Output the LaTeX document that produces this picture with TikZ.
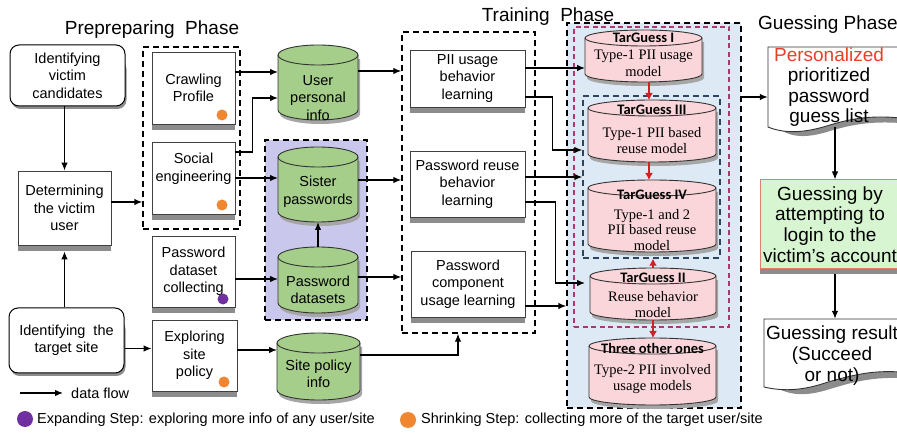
\documentclass[tikz,border=0pt]{standalone}
\usepackage{fontspec}
\setmainfont{Liberation Sans}
\newfontfamily\tgserif{Liberation Serif}
\newfontfamily\tgcal{Carlito}
\usetikzlibrary{arrows.meta,calc}
\definecolor{cylgreen}{RGB}{164,206,137}
\definecolor{grplav}{RGB}{201,200,236}
\definecolor{bluebg}{RGB}{221,234,245}
\definecolor{cylpink}{RGB}{250,213,217}
\definecolor{guessfill}{RGB}{214,245,208}
\definecolor{guessedge}{RGB}{224,128,108}
\definecolor{dotorange}{RGB}{238,134,50}
\definecolor{dotpurple}{RGB}{112,48,160}
\definecolor{myred}{RGB}{214,30,40}
\definecolor{pinkdash}{RGB}{168,58,108}
\definecolor{navydash}{RGB}{45,70,95}
\definecolor{persred}{RGB}{232,64,40}
\definecolor{shadgray}{RGB}{140,140,140}
\newcommand\dbcyl[7]{%
  \pgfmathsetmacro\cylrx{(#4-#2)/2}%
  \begin{scope}[shift={(2,4)}]
    \fill[black!35] (#2,#3+#6) -- (#2,#5-#6) arc[start angle=180,end angle=360,x radius=\cylrx pt,y radius=#6 pt] -- (#4,#3+#6) -- cycle;
  \end{scope}
  \path[fill=#7,draw=black!80,line width=0.9pt] (#2,#3+#6) -- (#2,#5-#6) arc[start angle=180,end angle=360,x radius=\cylrx pt,y radius=#6 pt] -- (#4,#3+#6) arc[start angle=0,end angle=180,x radius=\cylrx pt,y radius=#6 pt] -- cycle;
  \draw[black!80,line width=0.9pt] (#2,#3+#6) arc[start angle=180,end angle=360,x radius=\cylrx pt,y radius=#6 pt];
  \node[inner sep=0,outer sep=0,minimum width={(#4-#2)*1pt},minimum height={(#5-#3)*1pt}] (#1) at ({(#2+#4)/2},{(#3+#5)/2}) {};
}
% box with a grey band below it: x1,y1,x2,y2 (pixels, y downward), band height
\newcommand\boxshadow[5]{\fill[shadgray] (#1,#2) rectangle (#3,#4+#5);}
\newcommand\rboxshadow[5]{\fill[shadgray,rounded corners=9pt] (#1+1.5,#2) rectangle (#3+1.5,#4+#5);}
\begin{document}
\begin{tikzpicture}[x=1pt,y=-1pt,font=\fontsize{14.5}{17.5}\selectfont,
  flow/.style={-{Latex[length=8pt,width=6.5pt]},line width=1.3pt},
  redflow/.style={-{Latex[length=7pt,width=8pt]},line width=1.8pt,draw=myred,fill=myred},
  box/.style={draw=black!75,line width=0.8pt,fill=white,align=center,inner sep=1pt},
  rbox/.style={draw,rounded corners=9pt,line width=1pt,fill=white,align=center},
  grp/.style={draw,dash pattern=on 6pt off 4pt,line width=1.4pt,inner sep=0},
  sdot/.style={circle,inner sep=0,minimum size=11pt},
  ldot/.style={circle,inner sep=0,minimum size=16pt},
  ctext/.style={align=center,inner sep=0},
  ttl/.style={font=\fontsize{19}{22}\selectfont,inner sep=0},
  big/.style={align=center,inner sep=0,font=\fontsize{19}{20.5}\selectfont},
  tgt/.style={inner sep=0,font=\tgcal\bfseries\fontsize{14.5}{16}\selectfont},
  tgb/.style={align=center,inner sep=0,font=\tgserif\fontsize{14.5}{15.5}\selectfont}
]
\useasboundingbox (0,0) rectangle (897,435);

% titles
\node[ttl,anchor=base] (t1) at (152,35) {Prepreparing\ \ Phase};
\node[ttl,anchor=base] (t2) at (548,22) {Training\ \ Phase};
\node[ttl,anchor=base west] (t3) at (758,30) {Guessing Phase};

% group boxes
\node[grp,fill=bluebg,minimum width=174pt,minimum height=385pt] (outer) at (654,215.5) {};
\node[grp,draw=pinkdash,line width=1.2pt,dash pattern=on 5pt off 3.5pt,minimum width=155pt,minimum height=300pt] (pinkgrp) at (651.5,177) {};
\node[grp,draw=navydash,minimum width=137pt,minimum height=162pt] (inner) at (651.5,177) {};
\node[grp,fill=grplav,minimum width=102pt,minimum height=180pt] (purp) at (316,230) {};
\node[grp,minimum width=97pt,minimum height=182pt] (g1) at (191.5,138) {};
\node[grp,minimum width=133pt,minimum height=301pt] (train) at (468.5,182.5) {};

% shadows (grey bands under the boxes)
\rboxshadow{10}{60}{125}{106}{3}
\boxshadow{18}{200}{111}{245}{6}
\rboxshadow{9}{320}{124}{373}{3}
\boxshadow{152}{100}{235}{124}{6}
\boxshadow{152}{190}{235}{214}{6}
\boxshadow{152}{280}{235}{307}{6}
\boxshadow{152}{360}{237}{391}{6}
\boxshadow{410}{90}{525}{107}{6}
\boxshadow{410}{190}{525}{217}{6}
\boxshadow{411}{290}{525}{317}{6}
\boxshadow{760}{240}{900}{269}{5}

% left column
\node[rbox,minimum width=115pt,minimum height=61pt] (cand) at (67.5,75.5) {Identifying\\victim\\candidates};
\node[box,minimum width=93pt,minimum height=74pt] (det) at (64.5,208) {Determining\\the victim\\user};
\node[rbox,minimum width=115pt,minimum height=65pt] (target) at (66.5,340.5) {Identifying\ \ the\\target site};

% step boxes
\node[box,minimum width=83pt,minimum height=72pt] (crawl) at (193.5,88) {Crawling\\Profile};
\node[box,minimum width=83pt,minimum height=72pt] (social) at (193.5,178) {Social\\engineering\\[4pt]};
\node[box,minimum width=83pt,minimum height=71pt] (pwcol) at (193.5,271.5) {Password\\dataset\\collecting};
\node[box,minimum width=85pt,minimum height=71pt] (explore) at (194.5,355.5) {Exploring\\site\\policy};
\node[sdot,fill=dotorange] (d1) at (222,115) {};
\node[sdot,fill=dotorange] (d2) at (222,205) {};
\node[sdot,fill=dotpurple] (d3) at (223,299) {};
\node[sdot,fill=dotorange] (d4) at (224,382) {};

% green cylinders
\dbcyl{userinfo}{278}{45}{358}{120}{10}{cylgreen}
\dbcyl{sister}{278}{147}{358}{222}{10}{cylgreen}
\dbcyl{pwdata}{278}{247}{358}{313}{10}{cylgreen}
\dbcyl{sitepol}{277}{333}{360}{400}{10}{cylgreen}
\node[ctext] (userinfoT) at (318,98) {User\\personal\\info};
\node[ctext] (sisterT) at (318,192) {Sister\\passwords};
\node[ctext] (pwdataT) at (318,290) {Password\\datasets};
\node[ctext] (sitepolT) at (318.5,374) {Site policy\\info};

% training boxes
\node[box,minimum width=115pt,minimum height=57pt] (pii) at (467.5,78.5) {PII usage\\behavior\\learning};
\node[box,minimum width=115pt,minimum height=66pt] (reuse) at (467.5,184) {Password reuse\\behavior\\learning};
\node[box,minimum width=114pt,minimum height=66pt] (comp) at (468,284) {Password\\component\\usage learning};

% pink cylinders
\dbcyl{tg1}{585}{30}{702}{82}{8}{cylpink}
\dbcyl{tg3}{588}{100}{716}{162}{8}{cylpink}
\dbcyl{tg4}{588}{180}{716}{252}{8}{cylpink}
\dbcyl{tg2}{590}{268}{716}{320}{8}{cylpink}
\dbcyl{three}{589}{338}{716}{405}{8}{cylpink}
\node[tgt] (tg1a) at (643.5,38) {TarGuess I};
\node[tgb,font=\tgserif\fontsize{14.5}{17}\selectfont] (tg1b) at (643.5,63.5) {Type-1 PII usage\\model};
\node[tgt] (tg3a) at (652,110) {TarGuess III};
\node[tgb] (tg3b) at (652,140.5) {Type-1 PII based\\reuse model};
\node[tgt] (tg4a) at (652,195) {TarGuess IV};
\node[tgb] (tg4b) at (652,230) {Type-1 and 2\\PII based reuse\\model};
\node[tgt] (tg2a) at (653,278) {TarGuess II};
\node[tgb] (tg2b) at (653,304.5) {Reuse behavior\\model};
\node[tgt] (threea) at (652.5,348) {Three other ones};
\node[tgb] (threeb) at (652.5,379) {Type-2 PII involved\\usage models};

% right column
\fill[shadgray] (770,120) .. controls (785,139) and (805,139) .. (830,131) .. controls (850,125) and (870,121) .. (900,123) -- (900,116) -- (770,116) -- cycle;
\path[fill=white,draw=black!80,line width=0.9pt] (768,47) -- (900,47) -- (900,118) .. controls (870,115) and (850,119) .. (830,125) .. controls (805,133) and (785,134) .. (768,127) -- cycle;
\node[inner sep=0,minimum width=132pt,minimum height=80pt] (perslist) at (834,87) {};
\node[big] (perslistT) at (829,87) {\textcolor{persred}{Personalized}\\prioritized\\password\\guess list};

\node[draw=guessedge,line width=1pt,fill=guessfill,minimum width=140pt,minimum height=89pt,align=center,inner sep=0,font=\fontsize{19}{20.8}\selectfont] (guess) at (830,224.5) {Guessing by\\attempting to\\login to the\\victim's account};

\fill[shadgray] (766,380) .. controls (785,397) and (805,397) .. (830,389) .. controls (850,383) and (870,377) .. (900,378) -- (900,370) -- (766,370) -- cycle;
\path[fill=white,draw=black!80,line width=0.9pt] (764,319) -- (900,319) -- (900,372) .. controls (870,370) and (850,376) .. (828,382) .. controls (805,390) and (785,392) .. (764,387) -- cycle;
\node[inner sep=0,minimum width=136pt,minimum height=66pt] (result) at (832,352) {};
\node[big,font=\fontsize{19}{21}\selectfont] (resultT) at (832,356) {Guessing result\\(Succeed\\or not)};

% connectors left
\draw[flow] (cand.south -| det.north) -- (det.north);
\draw[flow] (target.north -| det.south) -- ([yshift=-6pt]det.south);
\draw[flow] ([yshift=6pt]det.east) -- ([yshift=6pt]det.east -| g1.west);
\draw[flow] ([yshift=-8pt]target.east) -- ([yshift=-8pt]target.east -| explore.west);
\draw[flow] ([yshift=16pt]crawl.east) -- ([yshift=16pt]crawl.east -| userinfo.west);
\draw[flow] ([yshift=26pt]social.east) -- ++(17,0) |- ([yshift=-15.5pt]userinfo.west);
\draw[flow] (social.east) -- (social.east -| sister.west);
\draw[flow] ([yshift=-7.5pt]pwcol.east) -- ([yshift=-7.5pt]pwcol.east -| pwdata.west);
\draw[flow] ([yshift=5.5pt]explore.east) -- ([yshift=5.5pt]explore.east -| sitepol.west);
\draw[flow] (pwdata.north) -- (sister.south);
\draw[flow] ([yshift=11.5pt]userinfo.east) -- ([yshift=11.5pt]userinfo.east -| train.west);
\draw[flow] ([yshift=4.5pt]sister.east) -- ([yshift=4.5pt]sister.east -| train.west);
\draw[flow] ([yshift=3pt]pwdata.east) -- ([yshift=3pt]pwdata.east -| train.west);
\draw[flow] ([yshift=11.5pt]sitepol.east) -| ([xshift=-10.5pt]train.south);

% connectors training
\draw[flow] ([yshift=10.5pt]pii.east) -- ([yshift=10.5pt]pii.east -| tg1.west);
\draw[flow] ([yshift=-18.5pt]pii.east) -- ++(27,0) |- ([yshift=27pt]inner.west);
\draw[flow] (reuse.east |- inner.west) -- (inner.west);
\draw[flow] ([yshift=-18pt]reuse.east) -- ++(30,0) |- ([xshift=-5pt,yshift=11pt]tg2.west);
\draw[flow] ([yshift=-22pt]comp.east) -- ([yshift=-22pt]comp.east -| outer.west);

% red arrows
\draw[redflow] ([xshift=5.5pt]tg1.south) -- ([xshift=5.5pt]tg1.south |- tg3.north);
\draw[redflow] ([xshift=-3pt]tg3.south) -- ([xshift=-3pt]tg3.south |- tg4.north);
\draw[redflow] (tg2.north) -- (tg2.north |- inner.south);
\draw[redflow] (tg2.south) -- (tg2.south |- three.north);

% connectors right
\draw[flow] ([yshift=-10pt]perslist.west -| outer.east) -- ([yshift=-10pt]perslist.west);
\draw[flow] ([xshift=1pt]perslist.south) -- ([xshift=1pt]perslist.south |- guess.north);
\draw[flow] ([xshift=5pt,yshift=-5pt]guess.south) -- ([xshift=5pt]guess.south |- result.north);

% legend
\coordinate (lg1) at (20,393);
\coordinate (lg2) at (63,393);
\draw[flow] (lg1) -- (lg2);
\node[anchor=west,inner sep=0] (lgT) at (71,393) {data flow};
\node[ldot,fill=dotpurple] (lgP) at (25,419) {};
\node[anchor=west,inner sep=0] (lgPT) at (37,420) {Expanding Step: exploring more info of any user/site};
\node[ldot,fill=dotorange] (lgO) at (408,420) {};
\node[anchor=west,inner sep=0] (lgOT) at (421,420) {Shrinking Step: collecting more of the target user/site};
\end{tikzpicture}
\end{document}
